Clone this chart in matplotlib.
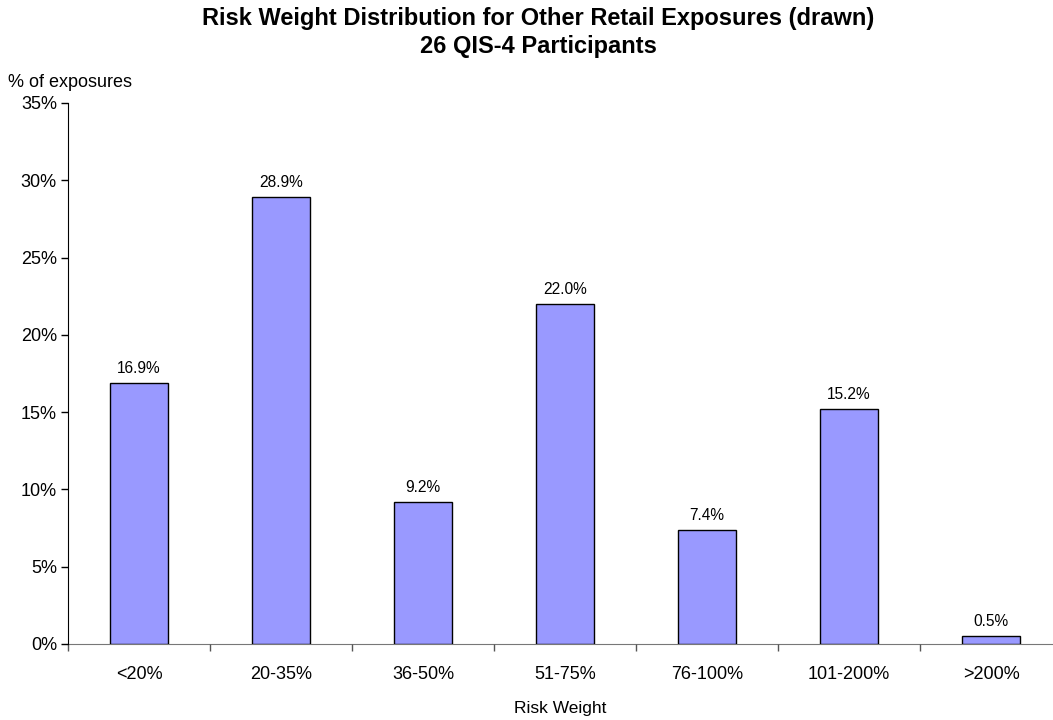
import numpy as np
import matplotlib.pyplot as plt
from matplotlib.ticker import FuncFormatter, FixedLocator

plt.rcParams['font.family'] = ['Liberation Sans', 'DejaVu Sans']

categories = ['<20%', '20-35%', '36-50%', '51-75%', '76-100%', '101-200%', '>200%']
shares = [16.9, 28.9, 9.2, 22.0, 7.4, 15.2, 0.5]
labels = ['16.9%', '28.9%', '9.2%', '22.0%', '7.4%', '15.2%', '0.5%']

fig = plt.figure(figsize=(10.53, 7.2), dpi=100)
# the category axis runs a little past the right edge of the figure
ax = fig.add_axes([0.0646, 0.1056, 0.944, 0.7514])

x = np.arange(len(categories))
bars = ax.bar(x, shares, width=0.41, color='#9999FF', edgecolor='black', linewidth=1.0)

for bar, lab in zip(bars, labels):
    ax.annotate(lab, (bar.get_x() + bar.get_width() / 2, bar.get_height()),
                xytext=(0, 5), textcoords='offset points',
                ha='center', va='bottom', fontsize=11.2)

ax.set_xlim(-0.5, len(categories) - 0.5)
ax.set_ylim(0, 35)
ax.set_yticks(np.arange(0, 36, 5))
ax.yaxis.set_major_formatter(FuncFormatter(lambda v, p: f'{v:.0f}%'))

# category labels centred, tick marks on the category boundaries
ax.set_xticks(x)
ax.set_xticklabels(categories, fontsize=13)
ax.xaxis.set_minor_locator(FixedLocator(np.arange(-0.5, len(categories), 1.0)))
ax.tick_params(axis='x', which='major', length=0, pad=16)
ax.tick_params(axis='x', which='minor', length=5, width=1, color='#555555', direction='out')
ax.tick_params(axis='y', length=5, width=1, direction='out', labelsize=13, pad=3)

for side in ['top', 'right']:
    ax.spines[side].set_visible(False)
ax.spines['left'].set_color('black')
ax.spines['bottom'].set_color('#777777')
ax.spines['bottom'].set_zorder(0)

ax.set_xlabel('Risk Weight', fontsize=12.5)
ax.xaxis.set_label_coords(0.495, -0.105)
fig.text(0.008, 0.886, '% of exposures', fontsize=13, ha='left', va='center')

fig.text(0.511, 0.974, 'Risk Weight Distribution for Other Retail Exposures (drawn)',
         fontsize=17, fontweight='bold', ha='center', va='center')
fig.text(0.511, 0.936, '26 QIS-4 Participants',
         fontsize=17, fontweight='bold', ha='center', va='center')

fig.savefig('out.png', dpi=100)
